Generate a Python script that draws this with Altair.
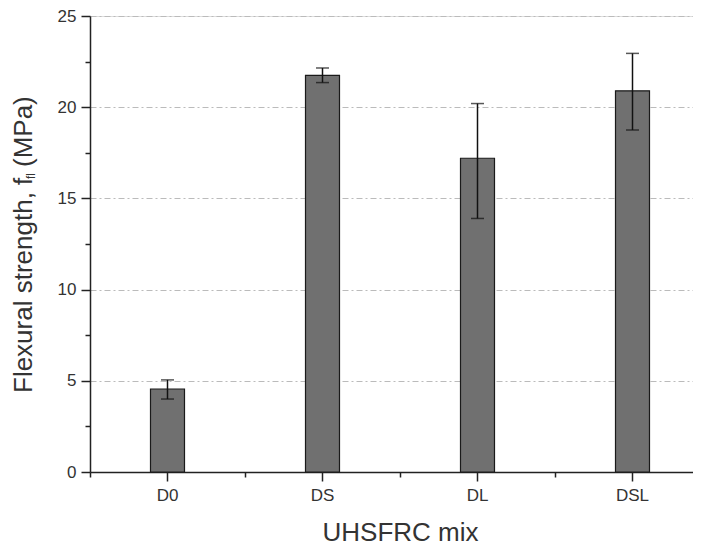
import altair as alt
import pandas as pd

mixes = ["D0", "DS", "DL", "DSL"]
strength = [4.55, 21.75, 17.2, 20.9]
err_low = [4.0, 21.35, 13.9, 18.75]
err_high = [5.05, 22.15, 20.2, 22.95]

y_major = [0, 5, 10, 15, 20, 25]
y_minor = [2.5, 7.5, 12.5, 17.5, 22.5]

df = pd.DataFrame({"mix": mixes, "strength": strength, "lo": err_low, "hi": err_high})

FONT = "Liberation Sans"
TXT = "#333333"

xscale = alt.Scale(domain=mixes, range=[0, 620], paddingInner=0, paddingOuter=0)
yscale = alt.Scale(domain=[0, 25], nice=False)

xaxis = alt.Axis(orient="bottom", title="UHSFRC mix", labelAngle=0, tickSize=9,
                 tickColor="#222", domainColor="#222", domainWidth=1.5, tickWidth=1.5,
                 labelFont=FONT, labelFontSize=17, labelColor=TXT, labelPadding=6,
                 titleFont=FONT, titleFontSize=26, titleFontWeight="normal", titleColor=TXT,
                 titlePadding=16, grid=False)
yaxis = alt.Axis(orient="left", title=None, values=y_major, tickSize=9, tickWidth=1.5,
                 tickColor="#222", domainColor="#222", domainWidth=1.5,
                 labelFont=FONT, labelFontSize=17, labelColor=TXT, labelPadding=5,
                 grid=True, gridColor="#bbbbbb", gridDash=[6, 3, 2, 3], gridWidth=1)

bars = alt.Chart(df).mark_bar(size=34, color="#707070", stroke="#1a1a1a", strokeWidth=1.2).encode(
    x=alt.X("mix:N", scale=xscale, axis=xaxis, sort=mixes),
    y=alt.Y("strength:Q", scale=yscale, axis=yaxis),
)

xminor = alt.Chart(df).mark_point(opacity=0).encode(
    x=alt.X("mix:N", scale=xscale, sort=mixes,
            axis=alt.Axis(orient="bottom", title=None, labels=False, tickBand="extent",
                          tickSize=5, tickWidth=1.5, tickColor="#222", domain=False, grid=False)),
    y=alt.Y("strength:Q", scale=yscale,
            axis=alt.Axis(orient="left", title=None, labels=False, values=y_minor, tickSize=5,
                          tickWidth=1.5, tickColor="#222", domain=False, grid=False)),
)

rules = alt.Chart(df).mark_rule(color="#111", strokeWidth=1.5).encode(
    x=alt.X("mix:N", scale=xscale, sort=mixes, axis=None),
    y=alt.Y("lo:Q", scale=yscale, axis=None),
    y2="hi:Q",
)
cap_hi = alt.Chart(df).mark_tick(color="#111", thickness=1.5, size=13, orient="horizontal").encode(
    x=alt.X("mix:N", scale=xscale, sort=mixes, axis=None),
    y=alt.Y("hi:Q", scale=yscale, axis=None),
)
cap_lo = alt.Chart(df).mark_tick(color="#111", thickness=1.5, size=13, orient="horizontal").encode(
    x=alt.X("mix:N", scale=xscale, sort=mixes, axis=None),
    y=alt.Y("lo:Q", scale=yscale, axis=None),
)

tdf = pd.DataFrame({"t": [0]})
t1 = alt.Chart(tdf).mark_text(text="Flexural strength, f", angle=270, align="left", baseline="middle",
                              font=FONT, fontSize=26, color=TXT).encode(
    x=alt.value(-66), y=alt.value(377))
t2 = alt.Chart(tdf).mark_text(text="fl", angle=270, align="left", baseline="middle",
                              font=FONT, fontSize=12, color=TXT).encode(
    x=alt.value(-59), y=alt.value(163))
t3 = alt.Chart(tdf).mark_text(text="(MPa)", angle=270, align="left", baseline="middle",
                              font=FONT, fontSize=26, color=TXT).encode(
    x=alt.value(-66), y=alt.value(151))

chart = alt.layer(bars, xminor, rules, cap_hi, cap_lo, t1, t2, t3).resolve_axis(
    x="independent", y="independent"
).properties(
    width=603, height=456,
    autosize=alt.AutoSizeParams(type="none"),
    padding={"left": 82, "top": 8, "right": 0, "bottom": 78},
).configure_view(stroke=None).configure(background="white")

chart.save("out.html", embed_options={"renderer": "svg", "actions": False})
